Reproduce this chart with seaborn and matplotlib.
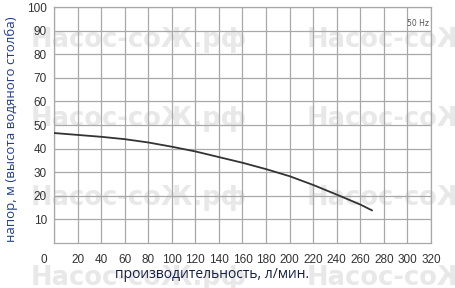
import matplotlib
matplotlib.use("Agg")
import matplotlib.pyplot as plt
import matplotlib.transforms as mtransforms
import seaborn as sns
import pandas as pd

flow = [0, 20, 40, 60, 80, 100, 120, 140, 160, 180, 200, 220, 240, 260, 270]
head = [46.6, 45.8, 45.0, 44.0, 42.6, 40.8, 38.8, 36.4, 34.0, 31.3, 28.3, 24.6, 20.5, 16.3, 13.8]
x_ticks = list(range(0, 321, 20))
y_ticks = list(range(10, 101, 10))
watermark = "Насос-соЖ.рф"

sns.set_theme(style="white")
plt.rcParams['font.family'] = ['DejaVu Sans']

fig = plt.figure(figsize=(4.56, 2.88), dpi=100)
ax = fig.add_axes([54/456, (288-243)/288, (431-54)/456, (243-7)/288])
ax.set_zorder(1)

# watermark (behind the axes)
for yy in [40, 119, 198, 278]:
    for xx in [31, 307]:
        fig.text(xx/456, 1 - yy/288, watermark, fontsize=18.5, fontweight='bold',
                 color='#e8e8e8', ha='left', va='center', zorder=0,
                 family='DejaVu Sans')

ax.patch.set_alpha(0)
df = pd.DataFrame({"flow": flow, "head": head})
sns.lineplot(data=df, x="flow", y="head", ax=ax, color='#333333', lw=1.3, zorder=5)

ax.set_xlim(0, 320)
ax.set_ylim(0, 100)
ax.set_xticks(x_ticks)
ax.set_yticks(y_ticks)
ax.set_xticklabels([str(v) for v in x_ticks], fontsize=8.5, color='#333333', family='Liberation Sans')
ax.set_yticklabels([str(v) for v in y_ticks], fontsize=8.5, color='#333333', family='Liberation Sans')
ax.tick_params(axis='both', length=0)
ax.tick_params(axis='x', pad=8)
ax.tick_params(axis='y', pad=5)
# shift the "0" label left
lab0 = ax.get_xticklabels()[0]
lab0.set_transform(lab0.get_transform() + mtransforms.ScaledTranslation(-10/100, 0, fig.dpi_scale_trans))

ax.grid(True, color='#a8a8a8', lw=0.9)
ax.set_axisbelow(True)
for s in ax.spines.values():
    s.set_color('#a8a8a8')
    s.set_linewidth(0.9)

ax.set_xlabel("")
ax.set_ylabel("")
fig.text(212/456, 1 - 274/288, "производительность, л/мин.", fontsize=10, color='#142048',
         ha='center', va='center', family='Open Sans')
fig.text(11/456, 1 - 129/288, "напор, м (высота водяного столба)", fontsize=9.5, color='#1f3c8c',
         ha='center', va='center', rotation=90, family='Open Sans')
ax.text(318, 92.8, "50 Hz", fontsize=5.5, color='#555555', ha='right', va='center', zorder=6)

fig.savefig("out.png", dpi=100)
